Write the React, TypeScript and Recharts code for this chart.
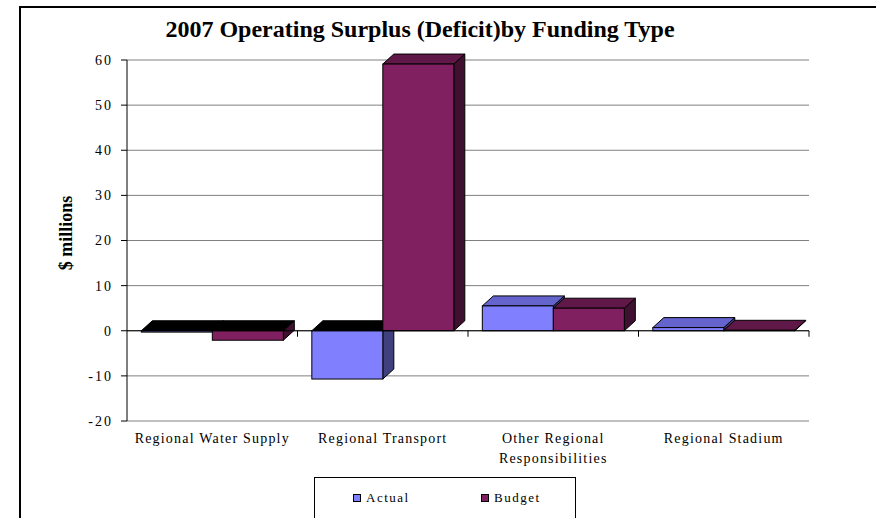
import React from 'react';
import { BarChart, Bar, XAxis, YAxis, CartesianGrid, ReferenceLine, Legend } from 'recharts';

const categories = ['Regional Water Supply', 'Regional Transport', 'Other Regional Responsibilities', 'Regional Stadium'];
const categoryLines = [['Regional Water Supply'], ['Regional Transport'], ['Other Regional', 'Responsibilities'], ['Regional Stadium']];
const actualValues = [-0.3, -10.7, 5.5, 0.7];
const budgetValues = [-2.1, 59.1, 5.0, 0.1];
const yTicks = [-20, -10, 0, 10, 20, 30, 40, 50, 60];
const seriesNames = ['Actual', 'Budget'];
const titleText = '2007 Operating Surplus (Deficit)by Funding Type';
const yLabelText = '$ millions';

const data = categories.map((name, i) => ({ name, actual: actualValues[i], budget: budgetValues[i] }));

const FONT = '"Liberation Serif", "Times New Roman", serif';
const DX = 11;
const DY = 10;

const actualColors = { front: '#8080FF', top: '#6464CC', side: '#40407F' };
const budgetColors = { front: '#802060', top: '#601848', side: '#401030' };

function Bar3D(props: any) {
  const { x, y, width, height, payload, dataKey, colors } = props;
  if (x == null || y == null) return null;
  const v = payload[dataKey];
  const top = Math.min(y, y + height);
  const bottom = Math.max(y, y + height);
  const w = width;
  const neg = v < 0;
  const topFill = neg ? '#000000' : colors.top;
  const stroke = '#000';
  return (
    <g>
      <polygon
        points={`${x + w},${top} ${x + w + DX},${top - DY} ${x + w + DX},${bottom - DY} ${x + w},${bottom}`}
        fill={colors.side}
        stroke={stroke}
        strokeWidth={1}
        strokeLinejoin="round"
      />
      <polygon
        points={`${x},${top} ${x + DX},${top - DY} ${x + w + DX},${top - DY} ${x + w},${top}`}
        fill={topFill}
        stroke={stroke}
        strokeWidth={1}
        strokeLinejoin="round"
      />
      <rect x={x} y={top} width={w} height={Math.max(bottom - top, 0)} fill={colors.front} stroke={stroke} strokeWidth={1} />
    </g>
  );
}

function ZeroLine(props: any) {
  const { x1, y1, x2, y2 } = props;
  if (x1 == null) return null;
  const n = categories.length;
  const ticks = [];
  for (let i = 1; i <= n; i++) {
    const tx = x1 + ((x2 - x1) * i) / n;
    ticks.push(<line key={i} x1={tx} y1={y1} x2={tx} y2={y1 + 6} stroke="#000" strokeWidth={1} />);
  }
  return (
    <g>
      <line x1={x1} y1={y1} x2={x2} y2={y2} stroke="#000" strokeWidth={1} />
      {ticks}
    </g>
  );
}

function CategoryTick(props: any) {
  const { x, y, payload } = props;
  const idx = categories.indexOf(payload.value);
  const lines = idx >= 0 ? categoryLines[idx] : [payload.value];
  return (
    <text x={x} y={y} textAnchor="middle" fontFamily={FONT} fontSize={14} letterSpacing={1.2} fill="#000">
      {lines.map((l, i) => (
        <tspan key={i} x={x} dy={i === 0 ? 22 : 20}>{l}</tspan>
      ))}
    </text>
  );
}

function LegendBox() {
  const items = [
    { name: seriesNames[0], color: actualColors.front, left: 38 },
    { name: seriesNames[1], color: budgetColors.front, left: 166 },
  ];
  return (
    <div style={{ position: 'relative', width: 262, height: 60, border: '1px solid #000', boxSizing: 'border-box', background: '#fff' }}>
      {items.map((it) => (
        <div key={it.name} style={{ position: 'absolute', left: it.left, top: 12, display: 'flex', alignItems: 'center', fontFamily: FONT, fontSize: 13, letterSpacing: 1.5, color: '#000' }}>
          <span style={{ display: 'inline-block', width: 6, height: 6, background: it.color, border: '1px solid #000', marginRight: 5 }} />
          <span>{it.name}</span>
        </div>
      ))}
    </div>
  );
}

export default function App() {
  return (
    <div style={{ position: 'absolute', left: 0, top: 0, width: 876, height: 518, overflow: 'hidden', background: '#fff' }}>
      <div style={{ position: 'absolute', left: 19, top: 6, width: 900, height: 600, borderTop: '2px solid #000', borderLeft: '2px solid #000' }} />
      <BarChart
        width={876}
        height={518}
        data={data}
        margin={{ top: 60, right: 67, bottom: 67, left: 67 }}
        barCategoryGap="8.4%"
        barGap={0}
      >
        <CartesianGrid horizontal vertical={false} stroke="#808080" strokeWidth={1} />
        <XAxis
          dataKey="name"
          height={30}
          axisLine={false}
          tickLine={false}
          tickSize={0}
          tickMargin={0}
          interval={0}
          tick={<CategoryTick />}
        />
        <YAxis
          width={60}
          domain={[-20, 60]}
          ticks={yTicks}
          interval={0}
          axisLine={{ stroke: '#000', strokeWidth: 1 }}
          tickLine={{ stroke: '#000', strokeWidth: 1 }}
          tickSize={6}
          tickMargin={8}
          tick={{ fontFamily: FONT, fontSize: 14, fill: '#000', letterSpacing: 2 }}
        />
        <ReferenceLine y={0} shape={(p: any) => <ZeroLine {...p} />} />
        <Bar dataKey="actual" name={seriesNames[0]} fill={actualColors.front} isAnimationActive={false}
          shape={(p: any) => <Bar3D {...p} dataKey="actual" colors={actualColors} />} />
        <Bar dataKey="budget" name={seriesNames[1]} fill={budgetColors.front} isAnimationActive={false}
          shape={(p: any) => <Bar3D {...p} dataKey="budget" colors={budgetColors} />} />
        <Legend
          layout="vertical"
          align="center"
          verticalAlign="middle"
          wrapperStyle={{ left: 314, top: 477, width: 262, height: 60 }}
          content={() => <LegendBox />}
        />
      </BarChart>
      <div style={{ position: 'absolute', left: 0, width: 840, top: 16, textAlign: 'center', fontFamily: FONT, fontWeight: 'bold', fontSize: 24, color: '#000', whiteSpace: 'nowrap' }}>
        {titleText}
      </div>
      <div style={{ position: 'absolute', left: 66, top: 233, transform: 'translate(-50%, -50%) rotate(-90deg)', fontFamily: FONT, fontWeight: 'bold', fontSize: 18, color: '#000', whiteSpace: 'nowrap' }}>
        {yLabelText}
      </div>
    </div>
  );
}
